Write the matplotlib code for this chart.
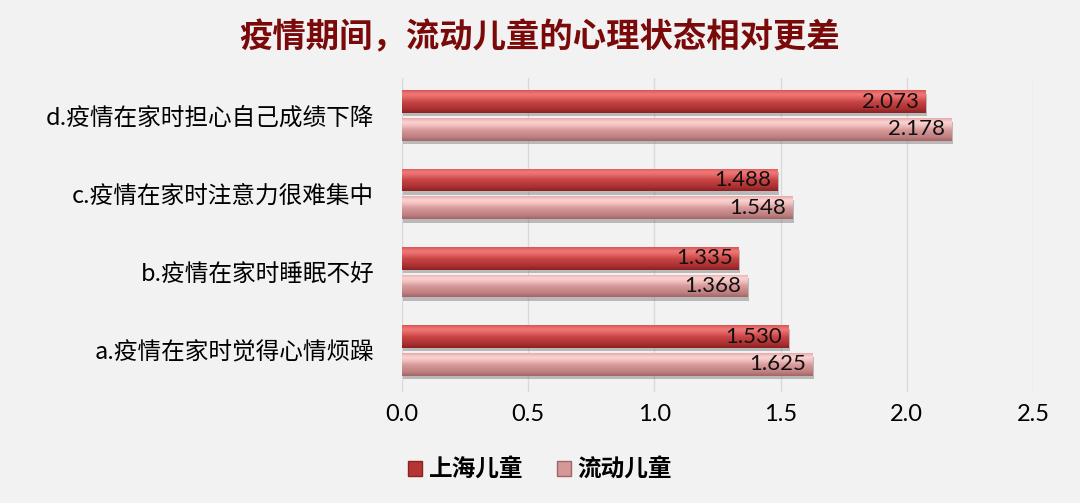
import numpy as np
import matplotlib.pyplot as plt
import matplotlib.patheffects as pe
from matplotlib.colors import LinearSegmentedColormap
from matplotlib.patches import Patch

categories = ['a.疫情在家时觉得心情烦躁', 'b.疫情在家时睡眠不好',
              'c.疫情在家时注意力很难集中', 'd.疫情在家时担心自己成绩下降']
shanghai = [1.530, 1.335, 1.488, 2.073]
liudong = [1.625, 1.368, 1.548, 2.178]
series_names = ['上海儿童', '流动儿童']
xticks = [0.0, 0.5, 1.0, 1.5, 2.0, 2.5]
title = '疫情期间，流动儿童的心理状态相对更差'

cjk = ['Noto Sans CJK SC', 'DejaVu Sans']
num_font = ['Lato', 'DejaVu Sans']
bg = '#f2f2f2'

# gradients, bottom -> top
red_cmap = LinearSegmentedColormap.from_list(
    'red3d', ['#8a2222', '#a92f30', '#bb3a3b', '#c94646', '#e26464', '#f07a78', '#d85454'])
pink_cmap = LinearSegmentedColormap.from_list(
    'pink3d', ['#a26464', '#bd7f7f', '#cb8c8c', '#d99c9c', '#f0bebe', '#fbd4d2', '#e6aaaa'])

fig = plt.figure(figsize=(10.8, 5.03), dpi=100, facecolor=bg)
ax = fig.add_axes([0.3722, 0.2207, 0.9565 - 0.3722, 0.845 - 0.2207], facecolor=bg)

y = np.arange(len(categories))
h = 0.29
off = 0.178

shadow = [pe.SimplePatchShadow(offset=(1, -2.5), shadow_rgbFace='#8a8a8a', alpha=0.55), pe.Normal()]
bars1 = ax.barh(y + off, shanghai, height=h, color='#b53535', edgecolor='none', zorder=3, path_effects=shadow)
bars2 = ax.barh(y - off, liudong, height=h, color='#cf8e8e', edgecolor='none', zorder=3, path_effects=shadow)

grad = np.linspace(0, 1, 64).reshape(-1, 1)
for bars, cmap in [(bars1, red_cmap), (bars2, pink_cmap)]:
    for b in bars:
        x0, y0, w, hh = b.get_x(), b.get_y(), b.get_width(), b.get_height()
        im = ax.imshow(grad, extent=[x0, x0 + w, y0, y0 + hh], origin='lower',
                       aspect='auto', cmap=cmap, zorder=3.5, interpolation='bicubic')
        im.set_clip_path(b)

for bars, vals in [(bars1, shanghai), (bars2, liudong)]:
    for b, v in zip(bars, vals):
        ax.text(v - 0.025, b.get_y() + b.get_height() / 2, f'{v:.3f}', ha='right', va='center',
                fontsize=16, family=num_font, color='#111111', zorder=5)

ax.set_xlim(0, 2.5)
ax.set_ylim(-0.53, 3.48)
ax.set_xticks(xticks)
ax.set_xticklabels([f'{t:.1f}' for t in xticks], fontsize=17, family=num_font)
ax.set_yticks(y)
ax.set_yticklabels(categories, fontsize=17, family=cjk)
ax.tick_params(axis='x', length=0, pad=9)
ax.tick_params(axis='y', length=0, pad=20)
ax.grid(axis='x', color='#d9d9d9', linewidth=1, zorder=0)
ax.set_axisbelow(True)
for s in ax.spines.values():
    s.set_visible(False)

fig.text(0.5, 0.926, title, ha='center', va='center', fontsize=24, fontweight='bold',
         family=cjk, color='#7a0a0a')

handles = [Patch(facecolor='#b53535', edgecolor='#8a2222'), Patch(facecolor='#d49898', edgecolor='#a26464')]
fig.legend(handles, series_names, loc='center', bbox_to_anchor=(0.5, 0.066), ncol=2, frameon=False,
           prop={'family': cjk, 'size': 17, 'weight': 'bold'}, handlelength=0.6, handleheight=0.6,
           handletextpad=0.3, columnspacing=1.4)

fig.savefig('out.png', dpi=100, facecolor=bg)
